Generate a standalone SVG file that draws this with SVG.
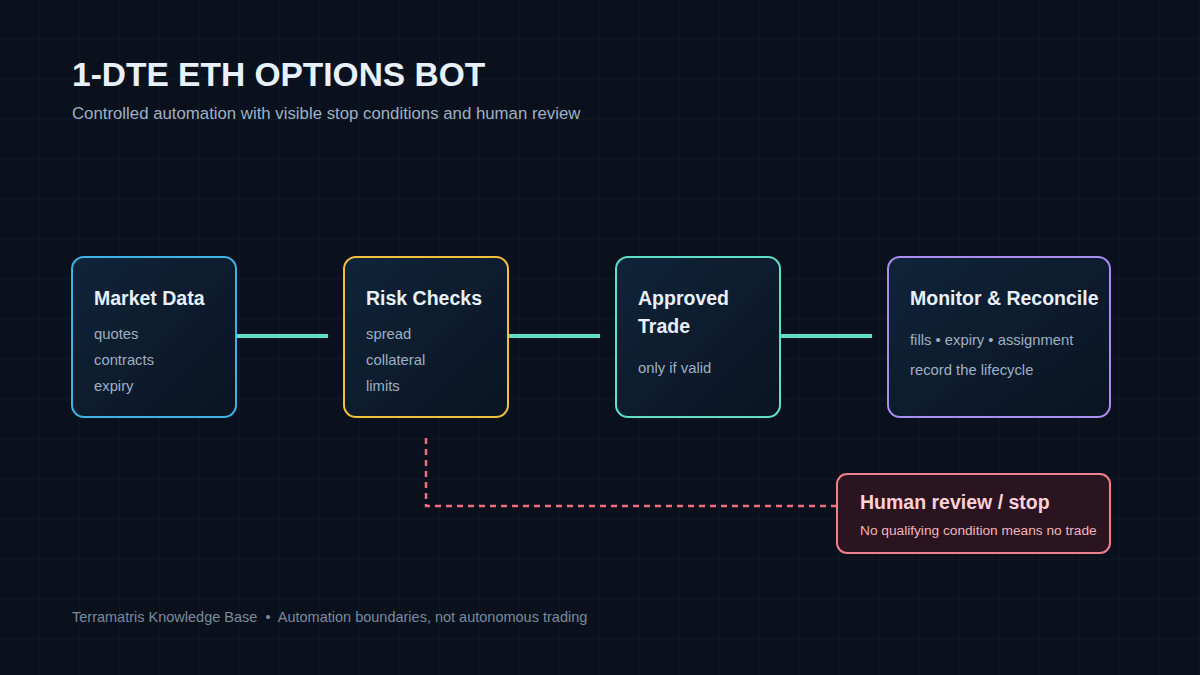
<svg xmlns="http://www.w3.org/2000/svg" width="1200" height="675" viewBox="0 0 1200 675">
<defs>
<pattern id="grid" width="40" height="40" patternUnits="userSpaceOnUse"><path d="M40 0V40M0 40H40" fill="none" stroke="#131c2a" stroke-width="1"/></pattern>
<linearGradient id="ng" x1="0" y1="0" x2="1" y2="1"><stop offset="0" stop-color="#10243a"/><stop offset="1" stop-color="#0a1422"/></linearGradient>
<style>
.t{font-family:"Liberation Sans",Arial,sans-serif;font-weight:bold;font-size:19.5px;fill:#e8f1fb}
.s{font-family:"Liberation Sans",Arial,sans-serif;font-size:14.8px;fill:#9fb0c4}
.n{fill:url(#ng);stroke-width:2}
.c{stroke:#5ee0c8;stroke-width:4;fill:none}
</style>
</defs>
<rect width="1200" height="675" fill="#0a111d"/>
<rect width="1200" height="675" fill="url(#grid)"/>
<text x="72" y="86" style="font-family:'Liberation Sans',Arial,sans-serif;font-weight:bold;font-size:33.5px;fill:#e8f1fb">1-DTE ETH OPTIONS BOT</text>
<text x="72" y="119" style="font-family:'Liberation Sans',Arial,sans-serif;font-size:16.8px;fill:#9fb0c4">Controlled automation with visible stop conditions and human review</text>
<g id="connectors">
<path class="c" d="M236 336H328M508 336H600M780 336H872"/>
<path d="M426 438V506H837" fill="none" stroke="#f06e7e" stroke-width="2.5" stroke-dasharray="6 5"/>
</g>
<g id="market-data"><rect class="n" x="72" y="257" width="164" height="160" rx="12" stroke="#3fb3e6"/>
<text class="t" x="94" y="305">Market Data</text><text class="s" x="94" y="339">quotes</text><text class="s" x="94" y="365">contracts</text><text class="s" x="94" y="391">expiry</text></g>
<g id="risk-checks"><rect class="n" x="344" y="257" width="164" height="160" rx="12" stroke="#f2c03c"/>
<text class="t" x="366" y="305">Risk Checks</text><text class="s" x="366" y="339">spread</text><text class="s" x="366" y="365">collateral</text><text class="s" x="366" y="391">limits</text></g>
<g id="approved-trade"><rect class="n" x="616" y="257" width="164" height="160" rx="12" stroke="#5ee0c8"/>
<text class="t" x="638" y="305">Approved</text><text class="t" x="638" y="333">Trade</text><text class="s" x="638" y="373">only if valid</text></g>
<g id="monitor"><rect class="n" x="888" y="257" width="222" height="160" rx="12" stroke="#a98ef0"/>
<text class="t" x="910" y="305">Monitor &amp; Reconcile</text><text class="s" x="910" y="345">fills • expiry • assignment</text><text class="s" x="910" y="375">record the lifecycle</text></g>
<g id="human-review"><rect x="837" y="474" width="273" height="79" rx="10" fill="#2a141f" stroke="#f0808e" stroke-width="2"/>
<text x="860" y="509" style="font-family:'Liberation Sans',Arial,sans-serif;font-weight:bold;font-size:19.5px;fill:#ffd0d6">Human review / stop</text>
<text x="860" y="535" style="font-family:'Liberation Sans',Arial,sans-serif;font-size:13.7px;fill:#f4b4bc">No qualifying condition means no trade</text></g>
<text x="72" y="622" xml:space="preserve" style="font-family:'Liberation Sans',Arial,sans-serif;font-size:14.5px;fill:#7b8a9e">Terramatris Knowledge Base  •  Automation boundaries, not autonomous trading</text>
</svg>
